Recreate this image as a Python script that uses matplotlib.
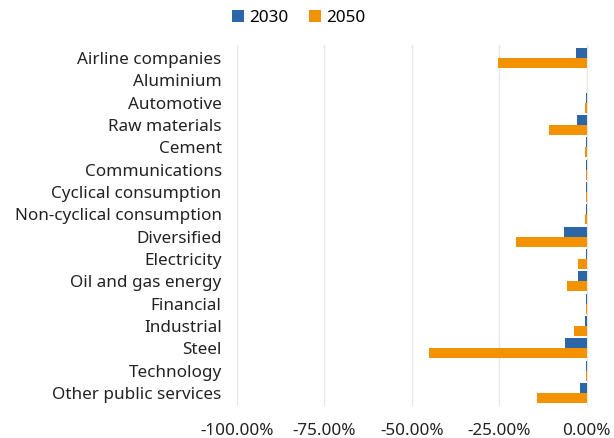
import matplotlib
matplotlib.use("Agg")
import matplotlib.pyplot as plt
import matplotlib.ticker as mticker
import numpy as np

plt.rcParams['font.family'] = ['Noto Sans', 'DejaVu Sans']

sectors = ['Airline companies', 'Aluminium', 'Automotive', 'Raw materials', 'Cement',
           'Communications', 'Cyclical consumption', 'Non-cyclical consumption',
           'Diversified', 'Electricity', 'Oil and gas energy', 'Financial',
           'Industrial', 'Steel', 'Technology', 'Other public services']
v2030 = [-3.0, 0.0, -0.1, -2.6, -0.1, -0.05, -0.1, -0.05,
         -6.4, -0.2, -2.3, -0.1, -0.5, -6.1, -0.1, -1.8]
v2050 = [-25.4, 0.0, -0.3, -10.7, -0.4, -0.1, -0.1, -0.3,
         -20.3, -2.4, -5.6, -0.05, -3.6, -45.1, -0.1, -14.1]
years = ['2030', '2050']
colors = ['#2D66A6', '#F39200']

fig = plt.figure(figsize=(6.14, 4.38), dpi=100)
ax = fig.add_axes([237/614, 1 - 406.4/438, 353/614, (406.4 - 44.6)/438])

y = np.arange(len(sectors))
h = 0.45
ax.barh(y - h/2, np.array(v2030)/100, height=h, color=colors[0], label=years[0], zorder=3)
ax.barh(y + h/2, np.array(v2050)/100, height=h, color=colors[1], label=years[1], zorder=3)

ax.set_yticks(y)
ax.set_yticklabels(sectors, fontsize=12.3, color='#222222')
ax.set_ylim(len(sectors) - 0.4, -0.6)
ax.set_xlim(-1.0, 0.01)
ax.set_xticks([-1.0, -0.75, -0.5, -0.25, 0.0])
ax.xaxis.set_major_formatter(mticker.FuncFormatter(lambda v, p: '-%.2f%%' % abs(v*100) if v < 0 else '%.2f%%' % (v*100)))
ax.tick_params(axis='x', labelsize=12.3, colors='#222222', length=0, pad=12)
ax.tick_params(axis='y', length=0, pad=11)
ax.grid(axis='x', color='#e6e6e6', linewidth=1, zorder=0)
for s in ax.spines.values():
    s.set_visible(False)

fig.legend(loc='upper center', bbox_to_anchor=(0.487, 1.012), ncol=2, frameon=False,
           fontsize=12.3, handlelength=0.7, handleheight=0.7, handletextpad=0.3,
           columnspacing=1.2)

fig.savefig('out.png', dpi=100)
